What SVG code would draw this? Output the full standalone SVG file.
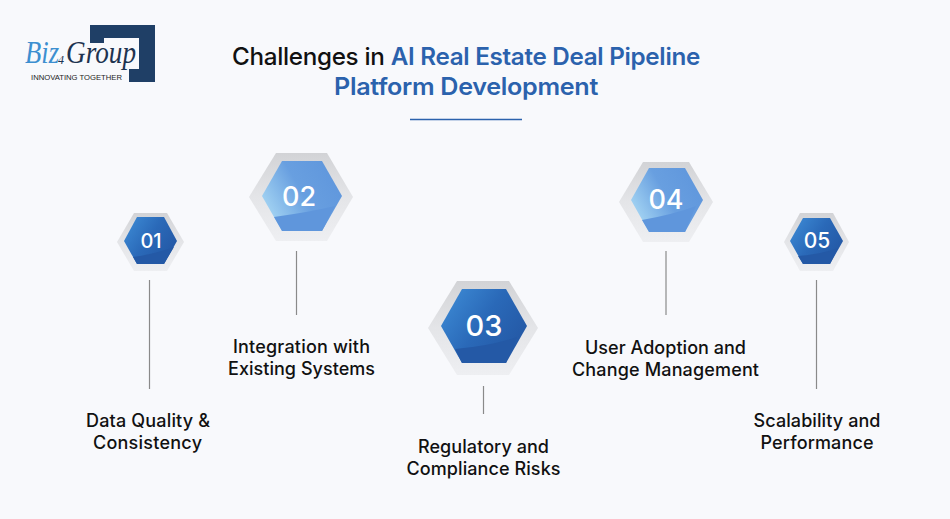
<svg xmlns="http://www.w3.org/2000/svg" width="950" height="519" viewBox="0 0 950 519">
<style>
.t{font-family:Inter,"Liberation Sans",sans-serif;font-weight:500;font-size:24px;letter-spacing:-.3px;fill:#111}
.t .b,.t.b{fill:#2b62ad;font-weight:600}
.l{font-family:Inter,"Liberation Sans",sans-serif;font-weight:500;font-size:18px;fill:#111;text-anchor:middle}
.n{font-family:Inter,"Open Sans",sans-serif;font-weight:500;fill:#fff;text-anchor:middle}
.c{stroke:#8a8a8a;stroke-width:1.2;fill:none}
</style>
<defs>
<linearGradient id="rim" x1="0" y1="0" x2="0" y2="1"><stop offset="0" stop-color="#d2d3d6"/><stop offset=".5" stop-color="#e4e5e8"/><stop offset="1" stop-color="#eeeff2"/></linearGradient>
<linearGradient id="dark" x1="0" y1="0" x2="1" y2=".6"><stop offset="0" stop-color="#3f8ed8"/><stop offset=".55" stop-color="#2a69b8"/><stop offset="1" stop-color="#2459a6"/></linearGradient>
<linearGradient id="light" x1="0" y1=".7" x2="1" y2=".2"><stop offset="0" stop-color="#a8d8f4"/><stop offset=".5" stop-color="#689fe0"/><stop offset="1" stop-color="#5f96dc"/></linearGradient>
</defs>
<rect width="950" height="519" fill="#f8f9fc"/>
<g id="logo">
<path d="M90 25H155V82H129V69H139V38H104V43H90Z" fill="#1f3f66"/>
<text y="63" font-family="Liberation Serif,serif" font-style="italic" font-size="31"><tspan x="25" fill="#3d8fd0" textLength="34" lengthAdjust="spacingAndGlyphs">Biz</tspan><tspan x="58" y="64" font-size="12" fill="#1e3350">4</tspan><tspan x="66" y="63" fill="#1e3350" textLength="70" lengthAdjust="spacingAndGlyphs">Group</tspan></text>
<text x="31" y="80" font-family="Liberation Sans,sans-serif" font-size="7.400" fill="#222" textLength="91" lengthAdjust="spacingAndGlyphs">INNOVATING TOGETHER</text>
</g>
<g id="title">
<text class="t" x="232" y="65" textLength="468" lengthAdjust="spacingAndGlyphs">Challenges in <tspan class="b">AI Real Estate Deal Pipeline</tspan></text>
<text class="t b" x="334" y="95" textLength="264" lengthAdjust="spacingAndGlyphs">Platform Development</text>
<path d="M410 119.500H522" stroke="#2b62ad" stroke-width="1.500"/>
</g>
<g id="connectors">
<path class="c" d="M149.500 280V389"/>
<path class="c" d="M296.500 251V315"/>
<path class="c" d="M483.500 386V414"/>
<path class="c" d="M666 251V315"/>
<path class="c" d="M816.500 280V389"/>
</g>
<g id="node1">
<path d="M117 242 134 213H167L184 242 167 271H134Z" fill="url(#rim)"/>
<path d="M124 241 137 217H164L177 241 164 264H137Z" fill="url(#dark)"/>
<path d="M133 257Q155 254 174 247 L164 264H137Z" fill="#2459a6"/>
<text class="n" x="151" y="248" font-size="20">01</text>
<text class="l" x="148" y="427" textLength="124">Data Quality &amp;</text>
<text class="l" x="147.500" y="449" textLength="109">Consistency</text>
</g>
<g id="node2">
<path d="M249 197 276 153H327L353 197 327 241H276Z" fill="url(#rim)"/>
<path d="M262 196 282 161H322L342 196 322 231H282Z" fill="url(#light)"/>
<path d="M274 217Q310 212 335 206 L322 231H282Z" fill="#5f96dc"/>
<text class="n" x="299" y="206" font-size="27">02</text>
<text class="l" x="301.500" y="353" textLength="137">Integration with</text>
<text class="l" x="301.500" y="375" textLength="147">Existing Systems</text>
</g>
<g id="node3">
<path d="M428 328 457 281H509L538 328 509 375H457Z" fill="url(#rim)"/>
<path d="M441 326 462 289H506L527 326 506 363H462Z" fill="url(#dark)"/>
<path d="M455 349Q490 346 517 337 L506 363H462Z" fill="#2459a6"/>
<text class="n" x="484" y="336" font-size="29">03</text>
<text class="l" x="483.500" y="453" textLength="131">Regulatory and</text>
<text class="l" x="483.500" y="475" textLength="154">Compliance Risks</text>
</g>
<g id="node4">
<path d="M619 202 643 162H689L713 202 689 242H643Z" fill="url(#rim)"/>
<path d="M631 200 649 168H685L703 200 685 232H649Z" fill="url(#light)"/>
<path d="M642 220Q675 214 696 206 L685 232H649Z" fill="#5f96dc"/>
<text class="n" x="666" y="209" font-size="27">04</text>
<text class="l" x="665.500" y="354" textLength="161">User Adoption and</text>
<text class="l" x="665.500" y="376" textLength="187">Change Management</text>
</g>
<g id="node5">
<path d="M784 242 800 213H833L849 242 833 271H800Z" fill="url(#rim)"/>
<path d="M790 241 803 218H830L843 241 830 264H803Z" fill="url(#dark)"/>
<path d="M798 256Q822 254 838 248 L830 264H803Z" fill="#2459a6"/>
<text class="n" x="817" y="248" font-size="21">05</text>
<text class="l" x="817" y="427" textLength="127">Scalability and</text>
<text class="l" x="817" y="449" textLength="113">Performance</text>
</g>
</svg>
